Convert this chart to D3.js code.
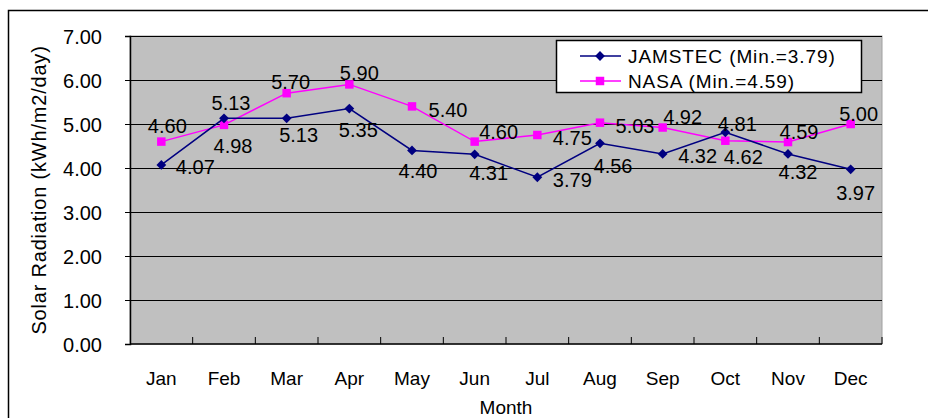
<!DOCTYPE html>
<html>
<head>
<meta charset="utf-8">
<script src="https://cdn.jsdelivr.net/npm/d3@7"></script>
<style>
  body { margin: 0; background: #fff; }
  text { font-family: "Liberation Sans", Arial, sans-serif; fill: #000; }
</style>
</head>
<body>
<div id="chart"></div>
<script>
// chart values
var months = ["Jan", "Feb", "Mar", "Apr", "May", "Jun", "Jul", "Aug", "Sep", "Oct", "Nov", "Dec"];
var jamstec = [4.07, 5.13, 5.13, 5.35, 4.40, 4.31, 3.79, 4.56, 4.32, 4.81, 4.32, 3.97];
var nasa = [4.60, 4.98, 5.70, 5.90, 5.40, 4.60, 4.75, 5.03, 4.92, 4.62, 4.59, 5.00];
var yTicks = [0, 1, 2, 3, 4, 5, 6, 7];
var seriesNames = ["JAMSTEC (Min.=3.79)", "NASA (Min.=4.59)"];

// where each data label sits relative to its point (layout only)
var jamstecLabelOffset = [[34, 2], [7, -15], [12, 17], [9, 21], [6, 20], [14, 18], [35, 3], [13, 22], [35, 2], [12, -9], [10, 18], [5, 23]];
var nasaLabelOffset = [[6, -16], [9, 21], [4, -11], [10, -12], [36, 3], [24, -10], [35, 3], [35, 3], [20, -11], [18, 16], [11, -10], [8, -10]];

var W = 928, H = 418;
var plot = { left: 130, top: 36, right: 882, bottom: 344 };

var svg = d3.select("#chart").append("svg")
    .attr("width", W)
    .attr("height", H);

// outer chart border
svg.append("rect")
    .attr("x", 8.5).attr("y", 10.5)
    .attr("width", W + 10).attr("height", H + 10)
    .attr("fill", "none")
    .attr("stroke", "#000")
    .attr("stroke-width", 1.5);

var x = d3.scaleBand().domain(months).range([plot.left, plot.right]);
var y = d3.scaleLinear().domain([0, 7]).range([plot.bottom, plot.top]);

// plot area
svg.append("rect")
    .attr("x", plot.left).attr("y", plot.top)
    .attr("width", plot.right - plot.left)
    .attr("height", plot.bottom - plot.top)
    .attr("fill", "#c0c0c0")
    .attr("stroke", "#a0a0a0");

// gridlines
svg.append("g").selectAll("line")
    .data(yTicks.slice(1))
    .enter().append("line")
    .attr("x1", plot.left).attr("x2", plot.right)
    .attr("y1", function (d) { return Math.round(y(d)) + 0.5; })
    .attr("y2", function (d) { return Math.round(y(d)) + 0.5; })
    .attr("stroke", "#000")
    .attr("stroke-width", 1);

// Y axis
var yAxis = d3.axisLeft(y)
    .tickValues(yTicks)
    .tickSize(5)
    .tickFormat(d3.format(".2f"));

var gy = svg.append("g")
    .attr("transform", "translate(" + plot.left + ",0)")
    .call(yAxis);
gy.select(".domain").attr("stroke", "#000").attr("stroke-width", 1.5);
gy.selectAll(".tick line").attr("stroke", "#000");
gy.selectAll(".tick text")
    .attr("x", -28)
    .attr("dy", "0.36em")
    .style("font-size", "20px")
    .style("font-family", "'Liberation Sans', Arial, sans-serif");

// X axis: ticks between categories, pointing up
var gx = svg.append("g")
    .attr("transform", "translate(0," + plot.bottom + ")");
gx.append("line")
    .attr("x1", plot.left).attr("x2", plot.right)
    .attr("stroke", "#000").attr("stroke-width", 1.5);
gx.selectAll(".sep")
    .data(months)
    .enter().append("line")
    .attr("class", "sep")
    .attr("x1", function (d) { return x(d) + x.bandwidth(); })
    .attr("x2", function (d) { return x(d) + x.bandwidth(); })
    .attr("y1", 0).attr("y2", -7)
    .attr("stroke", "#000");
gx.selectAll(".mlabel")
    .data(months)
    .enter().append("text")
    .attr("class", "mlabel")
    .attr("x", function (d) { return x(d) + x.bandwidth() / 2; })
    .attr("y", 41)
    .attr("text-anchor", "middle")
    .style("font-size", "19px")
    .text(function (d) { return d; });

// axis titles
svg.append("text")
    .attr("x", (plot.left + plot.right) / 2)
    .attr("y", 414)
    .attr("text-anchor", "middle")
    .style("font-size", "19px")
    .text("Month");

svg.append("text")
    .attr("transform", "translate(46,190) rotate(-90)")
    .attr("text-anchor", "middle")
    .style("font-size", "20px")
    .style("letter-spacing", "0.8px")
    .text("Solar Radiation (kWh/m2/day)");

// lines
var line = d3.line()
    .x(function (d, i) { return x(months[i]) + x.bandwidth() / 2; })
    .y(function (d) { return y(d); });

// diamond = square turned 45 degrees
function drawSeries(values, color, size, turn, offsets) {
    var g = svg.append("g");
    g.append("path")
        .attr("d", line(values))
        .attr("fill", "none")
        .attr("stroke", color)
        .attr("stroke-width", 1.5);
    g.selectAll(".pt")
        .data(values)
        .enter().append("path")
        .attr("class", "pt")
        .attr("d", d3.symbol().type(d3.symbolSquare).size(size))
        .attr("transform", function (d, i) {
            return "translate(" + (x(months[i]) + x.bandwidth() / 2) + "," + y(d) + ") rotate(" + turn + ")";
        })
        .attr("fill", color);
    g.selectAll(".lbl")
        .data(values)
        .enter().append("text")
        .attr("class", "lbl")
        .attr("x", function (d, i) { return x(months[i]) + x.bandwidth() / 2 + offsets[i][0]; })
        .attr("y", function (d, i) { return y(d) + offsets[i][1]; })
        .attr("dy", "0.36em")
        .attr("text-anchor", "middle")
        .style("font-size", "20px")
        .text(function (d) { return d3.format(".2f")(d); });
}

drawSeries(nasa, "#ff00ff", 72, 0, nasaLabelOffset);
drawSeries(jamstec, "#000080", 48, 45, jamstecLabelOffset);

// legend
var legend = svg.append("g");
legend.append("rect")
    .attr("x", 556.5).attr("y", 40.5)
    .attr("width", 305).attr("height", 52)
    .attr("fill", "#fff")
    .attr("stroke", "#000")
    .attr("stroke-width", 1.5);

var legendItems = [
    { name: seriesNames[0], color: "#000080", size: 48, turn: 45 },
    { name: seriesNames[1], color: "#ff00ff", size: 72, turn: 0 }
];
legendItems.forEach(function (item, i) {
    var ly = 56 + i * 25;
    legend.append("line")
        .attr("x1", 580).attr("x2", 621)
        .attr("y1", ly).attr("y2", ly)
        .attr("stroke", item.color).attr("stroke-width", 1.5);
    legend.append("path")
        .attr("d", d3.symbol().type(d3.symbolSquare).size(item.size))
        .attr("transform", "translate(600," + ly + ") rotate(" + item.turn + ")")
        .attr("fill", item.color);
    legend.append("text")
        .attr("x", 628)
        .attr("y", ly)
        .attr("dy", "0.36em")
        .style("font-size", "19px")
        .style("letter-spacing", "0.9px")
        .text(item.name);
});
</script>
</body>
</html>
